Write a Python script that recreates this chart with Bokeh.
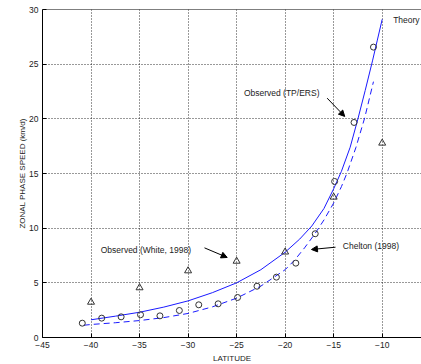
from bokeh.plotting import figure
from bokeh.models import FixedTicker, Span, Label, Arrow, NormalHead, Title
from bokeh.embed import file_html
from bokeh.resources import INLINE

# Observed (TP/ERS) - open circles
lat_tp = [-40.9, -38.9, -36.9, -34.9, -32.9, -30.9, -28.9, -26.9,
          -24.9, -22.9, -20.9, -18.9, -16.9, -14.9, -12.9, -10.9]
speed_tp = [1.31, 1.77, 1.89, 2.08, 1.98, 2.47, 2.99, 3.08,
            3.66, 4.69, 5.52, 6.80, 9.49, 14.27, 19.67, 26.56]

# Observed (White, 1998) - open triangles
lat_white = [-40, -35, -30, -25, -20, -15, -10]
speed_white = [3.23, 4.55, 6.10, 6.98, 7.82, 12.84, 17.78]

# Theory - solid line
lat_theory = [-40, -37.5, -35, -32.5, -30, -27.5, -25, -22.5, -20, -18.5,
              -17.25, -16, -15, -14.2, -13.3, -12.5, -11.75, -11.0, -10.5, -10]
speed_theory = [1.62, 1.95, 2.31, 2.78, 3.35, 4.1, 5.0, 6.2, 7.8, 9.0,
                10.2, 11.8, 13.6, 15.2, 17.4, 20.0, 22.6, 25.3, 27.2, 29.1]

# Chelton (1998) - dashed line
lat_chelton = [-40.75, -40, -37.5, -35, -32.5, -30, -27.5, -25, -22.5, -20,
               -19, -18, -17, -16, -15, -14.2, -13.6, -12.7, -11.8, -10.9]
speed_chelton = [1.12, 1.19, 1.35, 1.55, 1.82, 2.2, 2.8, 3.6, 4.7, 6.2,
                 7.1, 8.2, 9.4, 10.75, 12.3, 13.8, 15.1, 17.4, 20.1, 23.4]

x_ticks = [-45, -40, -35, -30, -25, -20, -15, -10, -5]
y_ticks = [0, 5, 10, 15, 20, 25, 30]

FONT = "Liberation Sans"
TXT = "#222222"

p = figure(width=421, height=364, x_range=(-45, -5.95), y_range=(0, 30),
           output_backend="svg", toolbar_location=None,
           min_border_left=42, min_border_right=0, min_border_top=9,
           min_border_bottom=27)
p.outline_line_color = None
p.background_fill_color = "white"
p.border_fill_color = "white"

for ax, ticks in ((p.xaxis, x_ticks), (p.yaxis, y_ticks)):
    ax.ticker = FixedTicker(ticks=ticks)
    ax.major_tick_in = 4
    ax.major_tick_out = 0
    ax.minor_tick_line_color = None
    ax.axis_line_color = "black"
    ax.major_tick_line_color = "black"
    ax.major_label_text_font = FONT
    ax.major_label_text_font_size = "8.5px"
    ax.major_label_text_color = TXT
p.xaxis.major_label_standoff = 4
p.yaxis.major_label_standoff = 4

# axis titles as side titles so they can be offset like the reference
p.add_layout(Title(text="LATITUDE", align="center", offset=5, standoff=2,
                   text_font=FONT, text_font_size="8px", text_font_style="normal",
                   text_color=TXT), "below")
p.add_layout(Title(text="ZONAL PHASE SPEED (km/d)", align="center", offset=9,
                   standoff=0, text_font=FONT, text_font_size="8px",
                   text_font_style="normal", text_color=TXT), "left")

for g in (p.xgrid, p.ygrid):
    g.grid_line_color = "black"
    g.grid_line_dash = "1 2"
    g.grid_line_width = 1
    g.grid_line_alpha = 0.8

p.add_layout(Span(location=30, dimension="width", line_color="black", line_width=1))

p.line(lat_theory, speed_theory, line_color="#1a1aff", line_width=1)
p.line(lat_chelton, speed_chelton, line_color="#1a1aff", line_width=1, line_dash="6 4")
p.scatter(lat_tp, speed_tp, marker="circle", size=6, fill_color=None,
          line_color="#333333", line_width=1)
p.scatter(lat_white, speed_white, marker="triangle", size=7, fill_color=None,
          line_color="#333333", line_width=1)

labels = [
    ("Theory", -8.87, 29.0),
    ("Observed (TP/ERS)", -24.25, 22.4),
    ("Observed (White, 1998)", -39.0, 7.96),
    ("Chelton (1998)", -14.06, 8.35),
]
for t, x, y in labels:
    p.add_layout(Label(x=x, y=y, text=t, text_font=FONT, text_font_size="8.5px",
                       text_color=TXT, text_baseline="middle"))

arrows = [
    (-15.67, 21.89, -13.86, 20.22),
    (-28.31, 8.2, -25.97, 7.32),
    (-14.81, 8.26, -17.29, 8.05),
]
for xs, ys, xe, ye in arrows:
    p.add_layout(Arrow(end=NormalHead(size=6, fill_color="black", line_color="black"),
                       x_start=xs, y_start=ys, x_end=xe, y_end=ye,
                       line_color="black", line_width=1))

open("out.html", "w").write(file_html(p, INLINE))
